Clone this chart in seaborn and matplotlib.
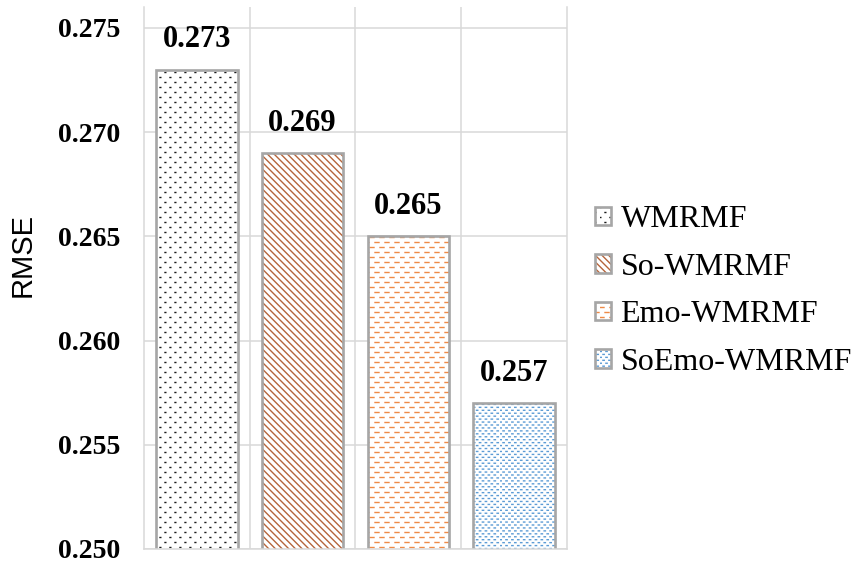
import warnings

import numpy as np
import pandas as pd
import matplotlib
matplotlib.use("Agg")
import matplotlib.pyplot as plt
import matplotlib.hatch as mhatch
import matplotlib.colors as mcolors
from matplotlib.path import Path
import seaborn as sns

# ---- data ---------------------------------------------------------------
methods = ["WMRMF", "So-WMRMF", "Emo-WMRMF", "SoEmo-WMRMF"]
rmse = [0.273, 0.269, 0.265, 0.257]
y_ticks = [0.250, 0.255, 0.260, 0.265, 0.270, 0.275]

# ---- styling ------------------------------------------------------------
hatches = [":", "\\" * 5, "_", ";"]
hatch_colors = ["#1a1a1a", "#b5653b", "#ef8a47", "#5b9bd5"]
edge_gray = "#a6a6a6"
grid_gray = "#d9d9d9"

warnings.filterwarnings("ignore", message="hatch must consist")


class StaggeredMarks(mhatch.HatchPatternBase):
    """Rows of short horizontal strokes, every other row shifted by half a step."""
    symbol = None
    rows = 20
    cols = 10
    length = 0.04

    def __init__(self, hatch, density):
        on = hatch.count(self.symbol) > 0
        self.num_rows = self.rows if on else 0
        self.num_cols = self.cols if on else 0
        self.num_vertices = 2 * self.num_rows * self.num_cols

    def set_vertices_and_codes(self, vertices, codes):
        r, c = np.meshgrid(np.arange(self.num_rows), np.arange(self.num_cols),
                           indexing="ij")
        x0 = ((c + 0.5 * (r % 2)) / self.num_cols).ravel()
        y = ((r + 0.5) / self.num_rows).ravel()
        vertices[0::2, 0] = x0
        vertices[0::2, 1] = y
        vertices[1::2, 0] = x0 + self.length
        vertices[1::2, 1] = y
        codes[0::2] = Path.MOVETO
        codes[1::2] = Path.LINETO


class DashRows(StaggeredMarks):
    symbol = "_"
    rows, cols, length = 20, 10, 0.04


class SparseDots(StaggeredMarks):
    symbol = ":"
    rows, cols, length = 20, 10, 0.008


class DenseDots(StaggeredMarks):
    symbol = ";"
    rows, cols, length = 34, 17, 0.013


mhatch._hatch_types.extend([DashRows, SparseDots, DenseDots])

sns.set_theme(style="white")
plt.rcParams["font.family"] = ["Liberation Serif", "DejaVu Serif"]
plt.rcParams["hatch.linewidth"] = 1.0
plt.rcParams["text.color"] = "black"
plt.rcParams["ytick.color"] = "black"
plt.rcParams["axes.labelcolor"] = "black"

fig = plt.figure(figsize=(8.53, 5.64), dpi=100)
ax = fig.add_axes([144 / 853, 15 / 564, 423 / 853, 542 / 564])

df = pd.DataFrame({"method": methods, "rmse": rmse})
sns.barplot(
    data=df, x="method", y="rmse", hue="method",
    palette={m: "white" for m in methods}, saturation=1,
    edgecolor=edge_gray, linewidth=1.9, width=0.77,
    legend=False, ax=ax,
)

handles = []
for cont, h, hc in zip(ax.containers, hatches, hatch_colors):
    for p in cont:
        p.set_hatch(h)
        p._hatch_color = mcolors.to_rgba(hc)
        handles.append(p)
    ax.bar_label(cont, fmt="%.3f", padding=11, fontsize=22,
                 fontweight="bold", color="black")

# axes, grid and ticks
ax.set_xlim(-0.5, 3.5)
ax.set_ylim(0.25, 0.276)
ax.set_xticks([])
ax.set_xticks([0.5, 1.5, 2.5], minor=True)
ax.set_xlabel("")
ax.set_ylabel("")
ax.set_yticks(y_ticks, labels=[f"{v:.3f}" for v in y_ticks],
              fontweight="bold", fontsize=20)
ax.tick_params(axis="y", length=0, pad=17, labelcolor="black")
ax.tick_params(axis="x", which="both", length=0)
ax.set_axisbelow(True)
ax.grid(axis="y", which="major", color=grid_gray, linewidth=1.1)
ax.grid(axis="x", which="minor", color=grid_gray, linewidth=1.1)
ax.spines["top"].set_visible(False)
for side in ("left", "right", "bottom"):
    ax.spines[side].set_color(grid_gray)
    ax.spines[side].set_linewidth(1.1)

fig.text(23 / 853, 1 - 255 / 564, "RMSE", rotation=90, ha="center",
         va="center", family="Liberation Sans", fontsize=21, color="black")

ax.legend(
    handles=handles, labels=methods, loc="center left",
    bbox_to_anchor=(595 / 853, 1 - 291 / 564), bbox_transform=fig.transFigure,
    frameon=False, fontsize=23, handlelength=0.5, handleheight=0.5,
    handletextpad=0.3, labelspacing=0.58, borderpad=0, borderaxespad=0,
    labelcolor="black",
)

fig.savefig("out.png", dpi=100)
